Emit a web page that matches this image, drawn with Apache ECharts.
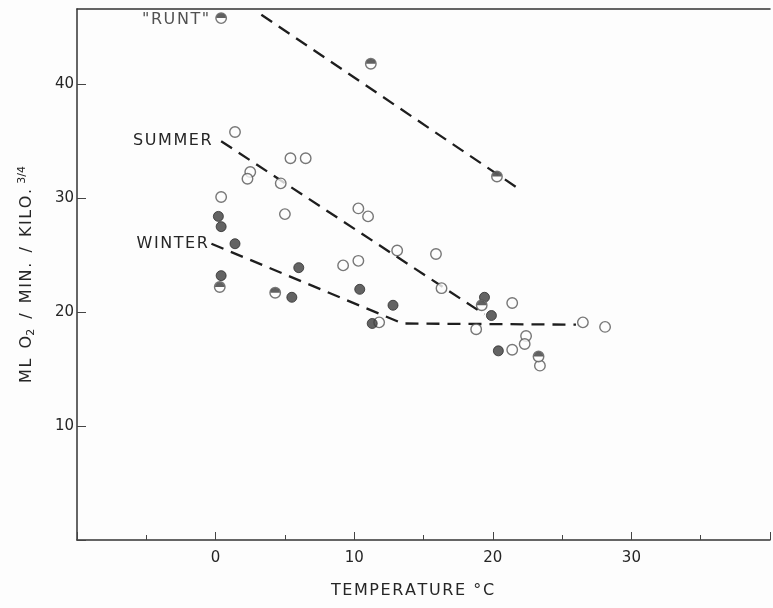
<!DOCTYPE html>
<html>
<head>
<meta charset="utf-8">
<script src="https://cdn.jsdelivr.net/npm/echarts@6/dist/echarts.min.js"></script>
<style>
  html, body { margin: 0; padding: 0; background: #fdfdfd; }
  #chart { width: 773px; height: 608px; }
</style>
</head>
<body>
<div id="chart"></div>
<script>
// Oxygen consumption vs. ambient temperature
// Measured points: [temperature °C, ml O2 / min / kilo^3/4]
const runtPoints = [[0.4, 45.8], [11.2, 41.8], [20.3, 31.9]];
const summerPoints = [
  [1.4, 35.8], [2.5, 32.3], [2.3, 31.7], [0.4, 30.1], [5.4, 33.5], [6.5, 33.5],
  [4.7, 31.3], [5.0, 28.6], [10.3, 29.1], [11.0, 28.4], [9.2, 24.1], [10.3, 24.5],
  [13.1, 25.4], [15.9, 25.1], [16.3, 22.1], [21.4, 20.8], [18.8, 18.5], [22.4, 17.9],
  [22.3, 17.2], [21.4, 16.7], [23.4, 15.3], [26.5, 19.1], [28.1, 18.7], [11.8, 19.1]
];
const winterPoints = [
  [0.2, 28.4], [0.4, 27.5], [1.4, 26.0], [0.4, 23.2], [5.5, 21.3], [6.0, 23.9],
  [10.4, 22.0], [11.3, 19.0], [12.8, 20.6], [19.4, 21.3], [19.9, 19.7], [20.4, 16.6]
];
const winterHalfPoints = [[0.3, 22.2], [4.3, 21.7], [19.2, 20.6], [23.3, 16.1]];

// Fitted trend lines
const runtLine = [[3.3, 46.1], [21.9, 30.8]];
const summerLine = [[0.4, 35.0], [19.4, 19.8]];
const winterLine = [[-0.3, 26.0], [13.5, 19.0], [26.0, 18.9]];

const xTickLabels = [0, 10, 20, 30];
const yTickLabels = [10, 20, 30, 40];

const FONT = 'DejaVu Sans';
const INK = '#262626';
const halfDisk = 'path://M0,10 A10,10 0 0 1 20,10 Z';

// lettering on the plate is widely tracked: pad with hair spaces
const spaced = s => Array.from(s).join('\u200A');

function openSeries(data, z) {
  return {
    type: 'scatter', data: data, symbol: 'circle', symbolSize: 10.5, z: z,
    itemStyle: { color: '#fdfdfd', borderColor: '#555', borderWidth: 1.4 },
    silent: true
  };
}
function halfSeries(data, z) {
  return {
    type: 'scatter', data: data, symbol: halfDisk, symbolSize: [9.5, 4.75],
    symbolOffset: [0, -2.4], z: z,
    itemStyle: { color: '#3a3a3a' }, silent: true
  };
}
function trend(data, label, gap) {
  const pts = data.map((p, i) => i === 0 && label
    ? { value: p, label: { show: true, position: 'left', distance: gap, formatter: spaced(label) } }
    : p);
  return {
    type: 'line', data: pts, showSymbol: true, symbol: 'circle', symbolSize: 1, z: 3, silent: true,
    itemStyle: { color: 'rgba(0,0,0,0)' },
    lineStyle: { color: '#1e1e1e', width: 2.3, type: [13, 8] },
    label: { show: false, fontFamily: FONT, fontSize: 16, color: INK, textBorderWidth: 0 }
  };
}

const chart = echarts.init(document.getElementById('chart'), null, { renderer: 'canvas' });
chart.setOption({
  backgroundColor: '#fdfdfd',
  animation: false,
  grid: { left: 77, right: 1, top: 9, bottom: 68, containLabel: false },
  xAxis: [{
    type: 'value', min: -10, max: 40, interval: 10,
    axisLine: { show: true, onZero: false, lineStyle: { color: '#333', width: 1.5 } },
    axisTick: { show: true, inside: true, length: 8, lineStyle: { color: '#444' } },
    minorTick: { show: true, splitNumber: 2, length: 5, lineStyle: { color: '#444' } },
    splitLine: { show: false },
    axisLabel: {
      margin: 11, fontFamily: FONT, fontSize: 15, color: INK,
      formatter: v => xTickLabels.includes(v) ? String(v) : ''
    },
    name: spaced('TEMPERATURE °C'), nameLocation: 'middle', nameGap: 43,
    nameTextStyle: { fontFamily: FONT, fontSize: 16, color: INK, padding: [0, 22, 0, 0] }
  }, {
    type: 'value', position: 'top', min: -10, max: 40,
    axisLine: { show: true, onZero: false, lineStyle: { color: '#333', width: 1.5 } },
    axisTick: { show: false }, axisLabel: { show: false }, splitLine: { show: false }
  }],
  yAxis: {
    type: 'value', min: 0, max: 46.6, interval: 10,
    axisLine: { show: true, onZero: false, lineStyle: { color: '#333', width: 1.5 } },
    axisTick: { show: true, inside: true, length: 9, lineStyle: { color: '#444' } },
    splitLine: { show: false },
    axisLabel: {
      margin: 3, fontFamily: FONT, fontSize: 15, color: INK, showMaxLabel: false,
      formatter: v => yTickLabels.includes(v) ? String(v) : ''
    },
    name: spaced('ML') + '  O{sub|2}  /  ' + spaced('MIN.') + '  /  ' + spaced('KILO.') + ' {sup|3/4}',
    nameLocation: 'middle', nameGap: 40, nameRotate: 90,
    nameTextStyle: {
      fontFamily: FONT, fontSize: 16, color: INK,
      rich: {
        sub: { fontFamily: FONT, fontSize: 11, color: INK, padding: [9, 0, 0, 0] },
        sup: { fontFamily: FONT, fontSize: 11, color: INK, padding: [0, 0, 9, 0] }
      }
    }
  },
  series: [
    trend(runtLine, null, 0),
    trend(summerLine, 'SUMMER', 9),
    trend(winterLine, 'WINTER', 3),
    openSeries(summerPoints, 5),
    {
      type: 'scatter', data: winterPoints, symbol: 'circle', symbolSize: 10, z: 6,
      itemStyle: { color: '#3c3c3c', borderColor: '#2e2e2e', borderWidth: 1 }, silent: true
    },
    openSeries(winterHalfPoints, 6),
    halfSeries(winterHalfPoints, 7),
    Object.assign(openSeries(runtPoints, 6), {
      label: {
        show: true, position: 'left', distance: 6, offset: [0, 2], fontFamily: FONT, fontSize: 16,
        color: INK, textBorderWidth: 0,
        formatter: p => p.dataIndex === 0 ? spaced('"RUNT"') : ''
      }
    }),
    halfSeries(runtPoints, 7)
  ]
});
</script>
</body>
</html>
